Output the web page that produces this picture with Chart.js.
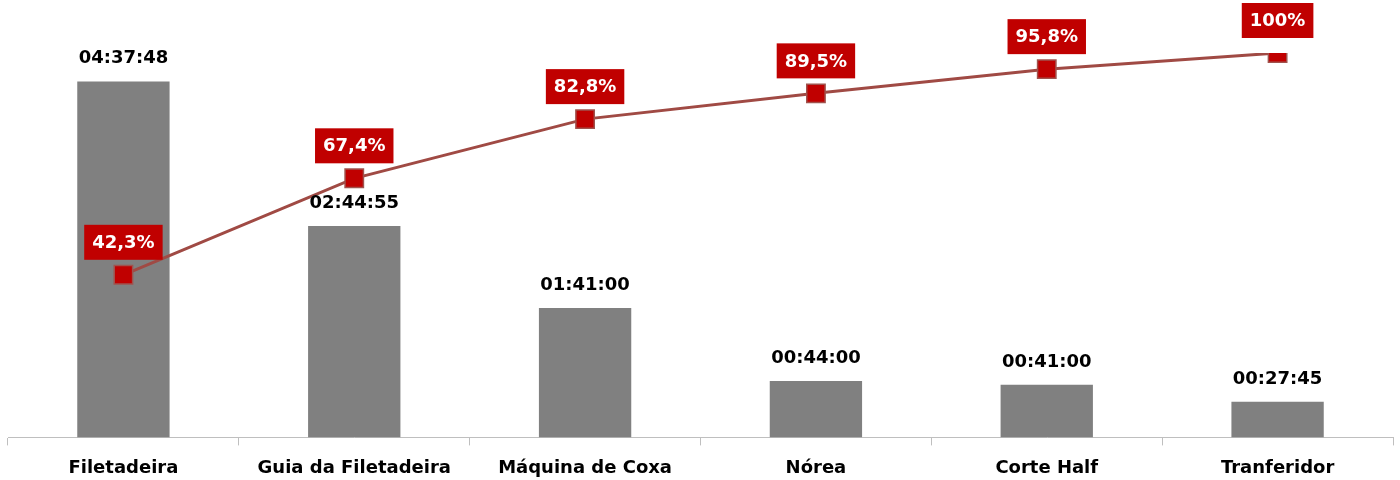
<!DOCTYPE html>
<html>
<head>
<meta charset="utf-8">
<script src="https://cdn.jsdelivr.net/npm/chart.js@4/dist/chart.umd.min.js"></script>
<style>
  html, body { margin: 0; padding: 0; background: #fff; }
  #wrap { width: 1400px; height: 480px; position: relative; }
</style>
</head>
<body>
<div id="wrap"><canvas id="paretoChart"></canvas></div>
<script>
const categories = ["Filetadeira", "Guia da Filetadeira", "Máquina de Coxa", "Nórea", "Corte Half", "Tranferidor"];
const durationLabels = ["04:37:48", "02:44:55", "01:41:00", "00:44:00", "00:41:00", "00:27:45"];
const durationSeconds = [16668, 9895, 6060, 2640, 2460, 1665];
const cumulativePct = [42.3, 67.4, 82.8, 89.5, 95.8, 100];
const pctLabels = ["42,3%", "67,4%", "82,8%", "89,5%", "95,8%", "100%"];

const FONT = "'DejaVu Sans', Verdana, sans-serif";

const labelPlugin = {
  id: "paretoLabels",
  afterDatasetsDraw(chart) {
    const ctx = chart.ctx;
    ctx.save();
    ctx.textAlign = "center";
    ctx.textBaseline = "middle";

    // bar labels
    const bars = chart.getDatasetMeta(1).data;
    ctx.font = `bold 18px ${FONT}`;
    ctx.fillStyle = "#000";
    bars.forEach((bar, i) => {
      ctx.fillText(durationLabels[i], bar.x, bar.y - 23);
    });

    // line labels
    const pts = chart.getDatasetMeta(0).data;
    pts.forEach((pt, i) => {
      const text = pctLabels[i];
      const w = ctx.measureText(text).width + 16;
      const h = 35;
      const bottom = pt.y - 15;
      ctx.fillStyle = "#C00000";
      ctx.fillRect(pt.x - w / 2, bottom - h, w, h);
      ctx.fillStyle = "#fff";
      ctx.fillText(text, pt.x, bottom - h / 2 + 1);
    });
    ctx.restore();
  },
};

new Chart(document.getElementById("paretoChart").getContext("2d"), {
  data: {
    labels: categories,
    datasets: [
      {
        type: "line",
        label: "Acumulado",
        data: cumulativePct,
        yAxisID: "y1",
        borderColor: "#A04A44",
        borderWidth: 3,
        pointStyle: "rect",
        pointRadius: 13,
        pointHoverRadius: 13,
        pointBackgroundColor: "#C00000",
        pointBorderColor: "#A0524D",
        pointBorderWidth: 1.5,
        tension: 0,
        order: 0,
      },
      {
        type: "bar",
        label: "Tempo",
        data: durationSeconds,
        yAxisID: "y",
        backgroundColor: "#808080",
        barPercentage: 0.4,
        categoryPercentage: 1,
        order: 1,
      },
    ],
  },
  options: {
    responsive: true,
    maintainAspectRatio: false,
    animation: false,
    events: [],
    layout: { autoPadding: false, padding: { left: 8, right: 7, top: 53, bottom: -11 } },
    plugins: {
      legend: { display: false },
      tooltip: { enabled: false },
    },
    scales: {
      x: {
        offset: true,
        grid: {
          offset: true,
          drawOnChartArea: false,
          drawTicks: true,
          tickLength: 8,
          color: "#BFBFBF",
        },
        border: { color: "#BFBFBF", width: 1 },
        ticks: {
          color: "#000",
          padding: 12,
          maxRotation: 0,
          autoSkip: false,
          font: { family: FONT, size: 18, weight: "bold" },
        },
      },
      y: { display: false, min: 0, max: 18000 },
      y1: { display: false, min: 0, max: 100, position: "right" },
    },
  },
  plugins: [labelPlugin],
});
</script>
</body>
</html>
